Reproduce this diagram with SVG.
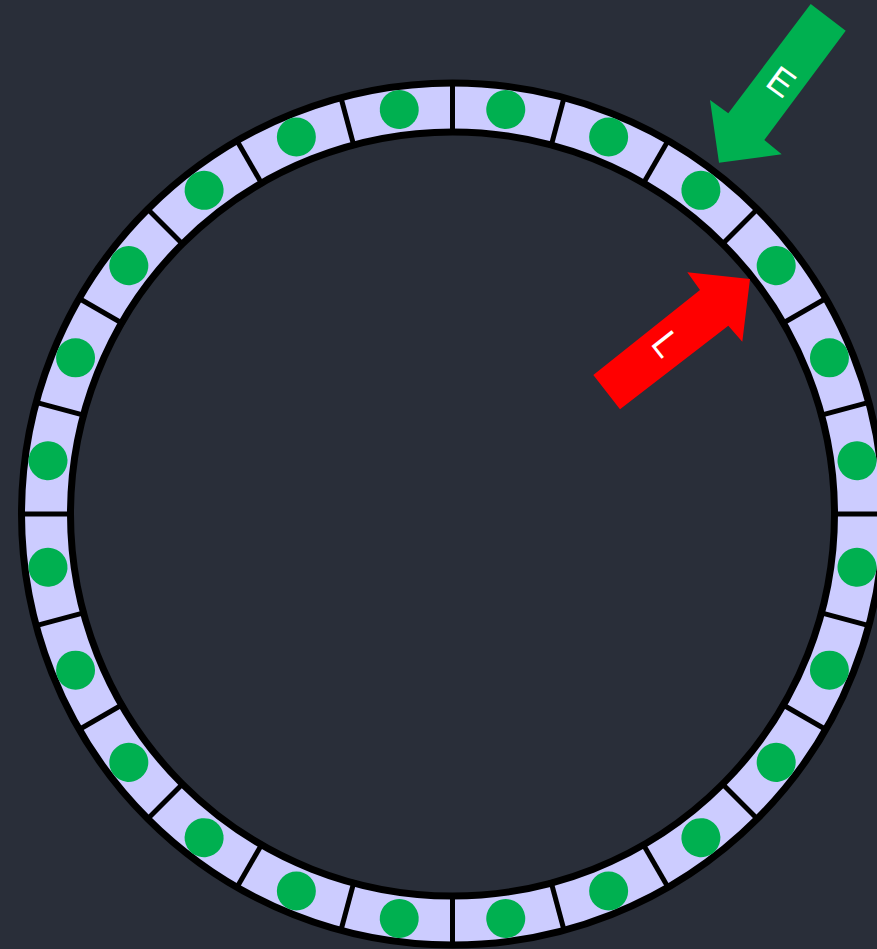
<svg xmlns="http://www.w3.org/2000/svg" width="877" height="949" viewBox="0 0 877 949">
<defs>
<style>
.div{stroke:#000;stroke-width:5}
.dot{fill:#00B050}
.lbl{font-family:"Liberation Sans",Arial,sans-serif;font-size:37px;fill:#fff;text-anchor:middle;dominant-baseline:central}
</style>
<line id="dv" class="div" x1="452.5" y1="81" x2="452.5" y2="135"/>
<circle id="dt" class="dot" cx="452.5" cy="106" r="19.5"/>
</defs>
<rect width="877" height="949" fill="#292e39"/>
<g id="ring">
<circle cx="452.5" cy="514" r="431" fill="#ccccff" stroke="#000" stroke-width="7"/>
<circle cx="452.5" cy="514" r="382" fill="#292e39" stroke="#000" stroke-width="7"/>
<use href="#dv" transform="rotate(0 452.5 514)"/>
<use href="#dv" transform="rotate(15 452.5 514)"/>
<use href="#dv" transform="rotate(30 452.5 514)"/>
<use href="#dv" transform="rotate(45 452.5 514)"/>
<use href="#dv" transform="rotate(60 452.5 514)"/>
<use href="#dv" transform="rotate(75 452.5 514)"/>
<use href="#dv" transform="rotate(90 452.5 514)"/>
<use href="#dv" transform="rotate(105 452.5 514)"/>
<use href="#dv" transform="rotate(120 452.5 514)"/>
<use href="#dv" transform="rotate(135 452.5 514)"/>
<use href="#dv" transform="rotate(150 452.5 514)"/>
<use href="#dv" transform="rotate(165 452.5 514)"/>
<use href="#dv" transform="rotate(180 452.5 514)"/>
<use href="#dv" transform="rotate(195 452.5 514)"/>
<use href="#dv" transform="rotate(210 452.5 514)"/>
<use href="#dv" transform="rotate(225 452.5 514)"/>
<use href="#dv" transform="rotate(240 452.5 514)"/>
<use href="#dv" transform="rotate(255 452.5 514)"/>
<use href="#dv" transform="rotate(270 452.5 514)"/>
<use href="#dv" transform="rotate(285 452.5 514)"/>
<use href="#dv" transform="rotate(300 452.5 514)"/>
<use href="#dv" transform="rotate(315 452.5 514)"/>
<use href="#dv" transform="rotate(330 452.5 514)"/>
<use href="#dv" transform="rotate(345 452.5 514)"/>
</g>
<g id="slots">
<use href="#dt" transform="rotate(7.5 452.5 514)"/>
<use href="#dt" transform="rotate(22.5 452.5 514)"/>
<use href="#dt" transform="rotate(37.5 452.5 514)"/>
<use href="#dt" transform="rotate(52.5 452.5 514)"/>
<use href="#dt" transform="rotate(67.5 452.5 514)"/>
<use href="#dt" transform="rotate(82.5 452.5 514)"/>
<use href="#dt" transform="rotate(97.5 452.5 514)"/>
<use href="#dt" transform="rotate(112.5 452.5 514)"/>
<use href="#dt" transform="rotate(127.5 452.5 514)"/>
<use href="#dt" transform="rotate(142.5 452.5 514)"/>
<use href="#dt" transform="rotate(157.5 452.5 514)"/>
<use href="#dt" transform="rotate(172.5 452.5 514)"/>
<use href="#dt" transform="rotate(187.5 452.5 514)"/>
<use href="#dt" transform="rotate(202.5 452.5 514)"/>
<use href="#dt" transform="rotate(217.5 452.5 514)"/>
<use href="#dt" transform="rotate(232.5 452.5 514)"/>
<use href="#dt" transform="rotate(247.5 452.5 514)"/>
<use href="#dt" transform="rotate(262.5 452.5 514)"/>
<use href="#dt" transform="rotate(277.5 452.5 514)"/>
<use href="#dt" transform="rotate(292.5 452.5 514)"/>
<use href="#dt" transform="rotate(307.5 452.5 514)"/>
<use href="#dt" transform="rotate(322.5 452.5 514)"/>
<use href="#dt" transform="rotate(337.5 452.5 514)"/>
<use href="#dt" transform="rotate(352.5 452.5 514)"/>
</g>
<g id="connectors">
<g id="arrow-E">
<polygon points="810.7,4 845.7,30.7 764.3,140 781.7,154.3 719,162.7 710,100 728.3,113.3" fill="#00B050"/>
<text class="lbl" x="781" y="82" transform="rotate(36 781 82)">E</text>
</g>
<g id="arrow-L">
<polygon points="593.3,375 620,409.3 728.3,325.7 742.3,341.7 750,279 687.3,272.3 700,290" fill="#ff0000"/>
<text class="lbl" x="666" y="344" transform="rotate(52 666 344)">L</text>
</g>
</g>
</svg>
